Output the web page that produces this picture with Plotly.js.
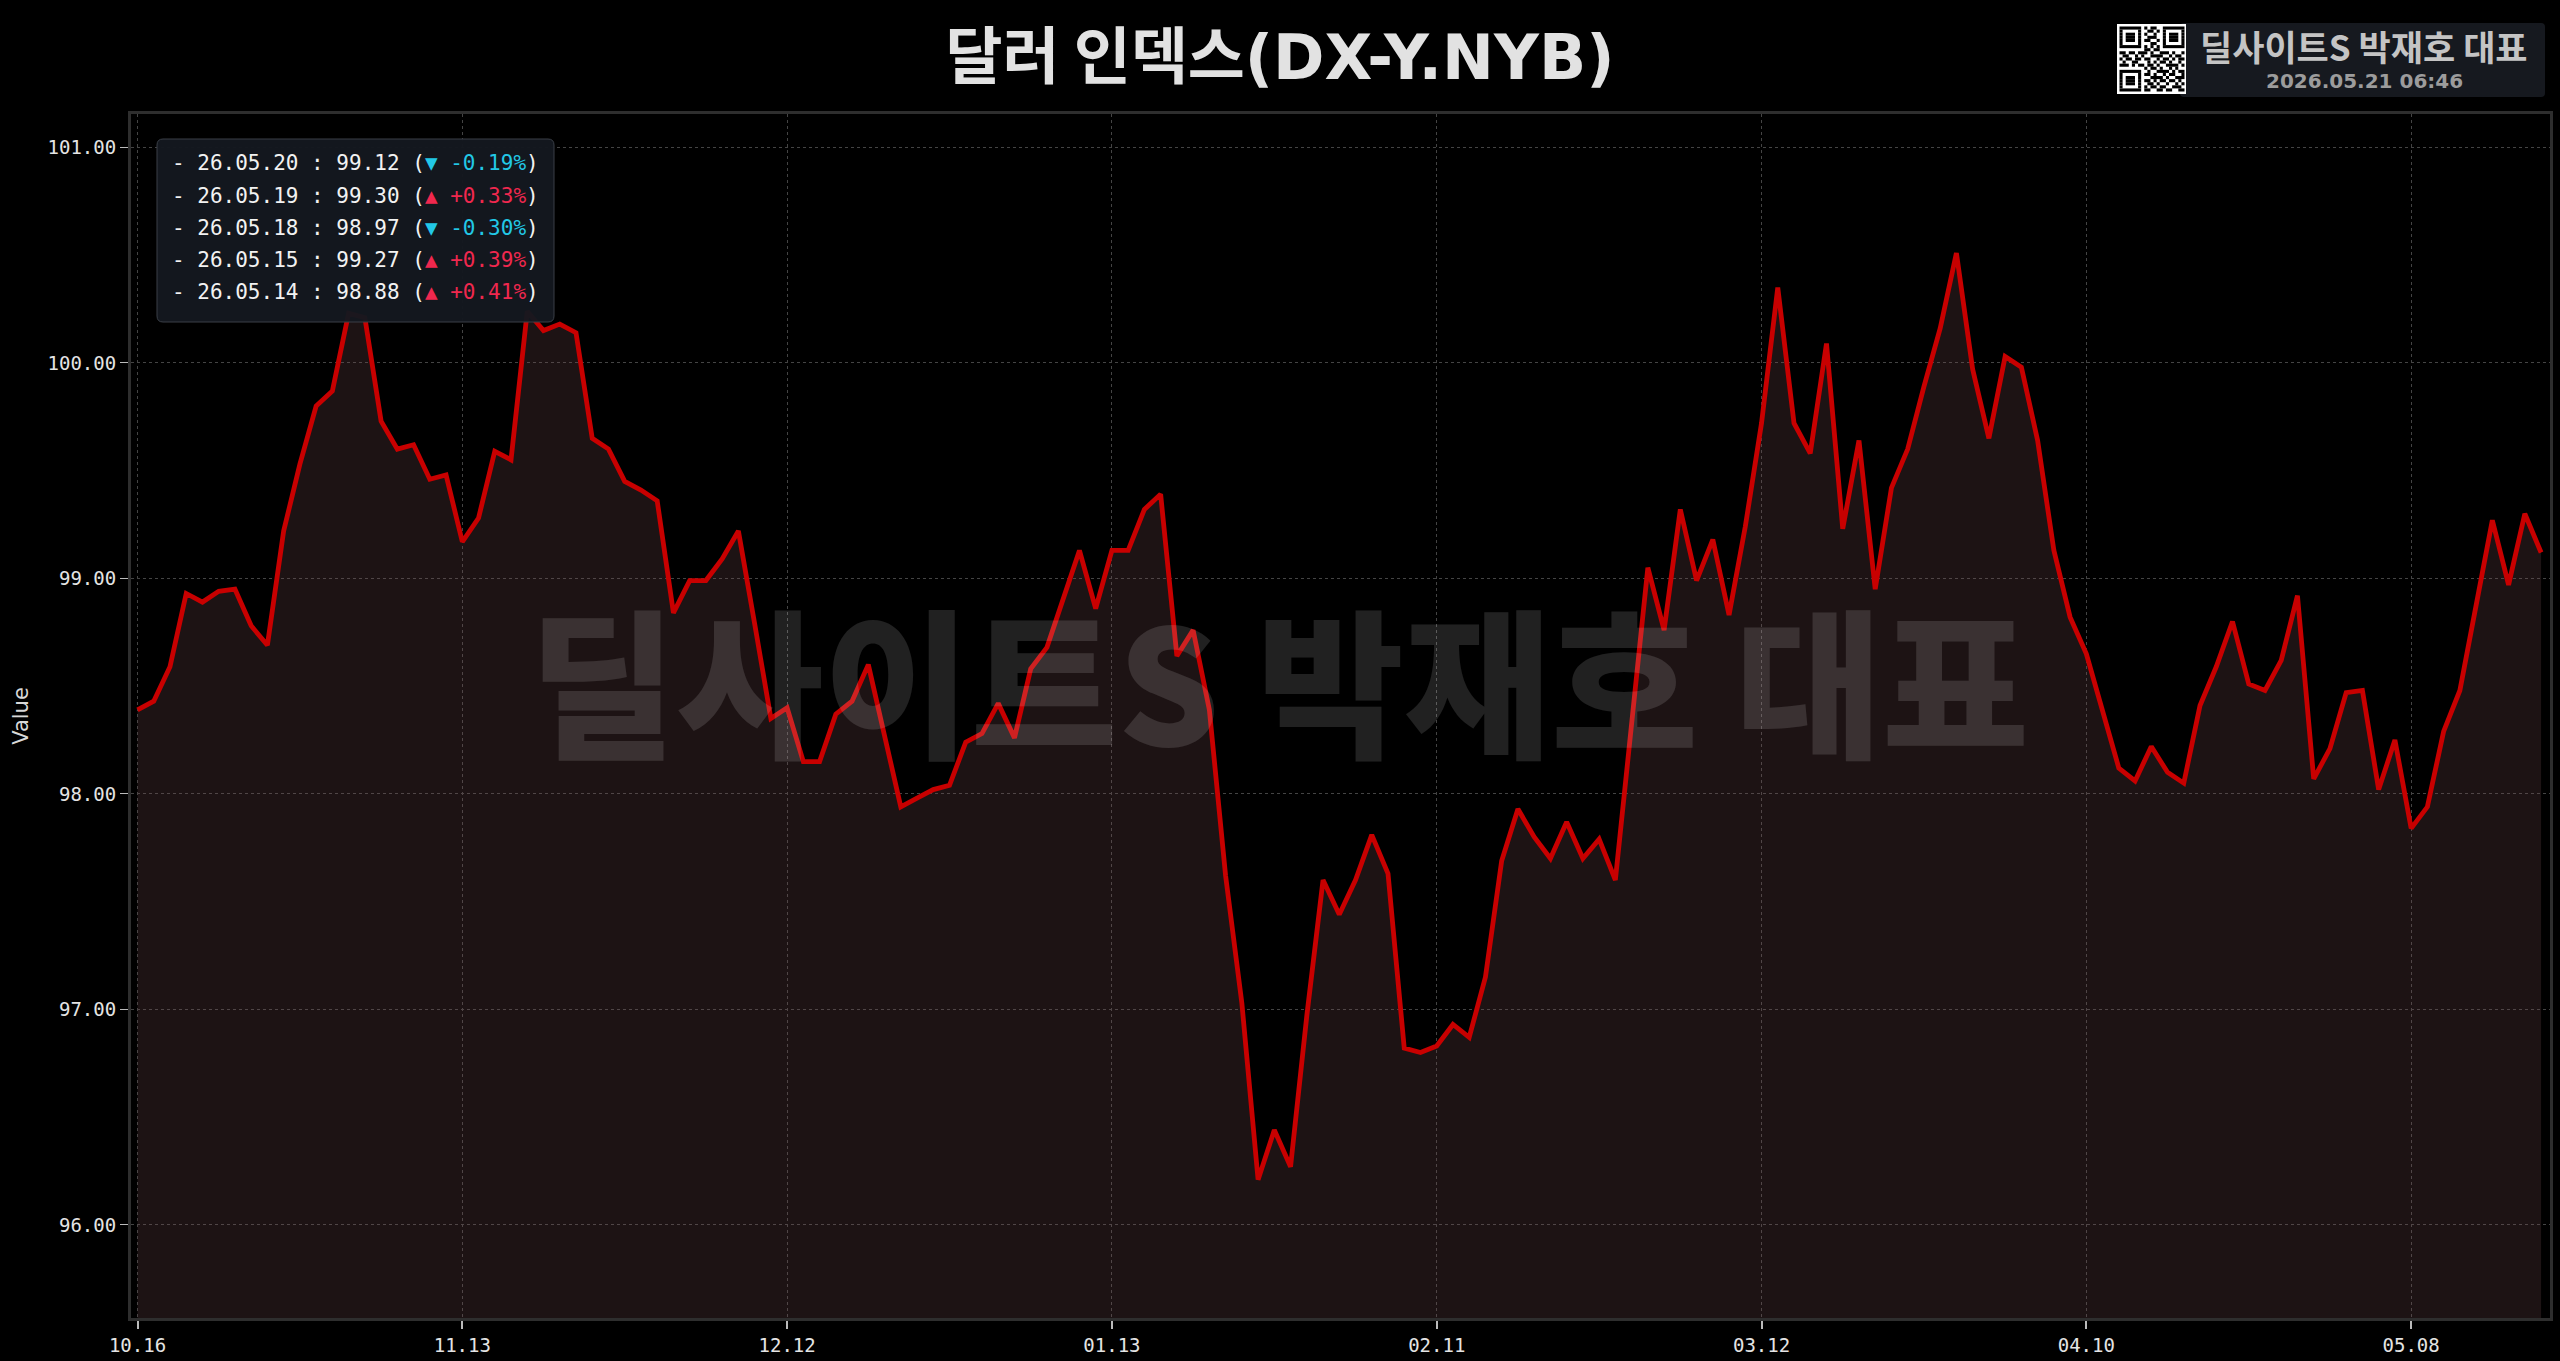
<!DOCTYPE html>
<html>
<head>
<meta charset="utf-8">
<script src="https://cdn.plot.ly/plotly-3.0.1.min.js"></script>
<style>
  html, body { margin: 0; padding: 0; background: #000; }
  #chart { width: 2560px; height: 1361px; }
</style>
</head>
<body>
<div id="chart"></div>
<script>
// ---- data ----
const dates = [
  '10.16','10.17','10.20','10.21','10.22','10.23','10.24','10.27','10.28','10.29','10.30','10.31',
  '11.03','11.04','11.05','11.06','11.07','11.10','11.11','11.12','11.13','11.14',
  '11.17','11.18','11.19','11.20','11.21','11.24','11.25','11.26','11.28',
  '12.01','12.02','12.03','12.04','12.05','12.08','12.09','12.10','12.11','12.12',
  '12.15','12.16','12.17','12.18','12.19','12.22','12.23','12.24','12.26',
  '12.29','12.30','12.31','01.02','01.05','01.06','01.07','01.08','01.09',
  '01.12','01.13','01.14','01.15','01.16','01.20','01.21','01.22','01.23',
  '01.26','01.27','01.28','01.29','01.30','02.02','02.03','02.04','02.05','02.06',
  '02.09','02.10','02.11','02.12','02.13','02.17','02.18','02.19','02.20',
  '02.23','02.24','02.25','02.26','02.27','03.02','03.03','03.04','03.05','03.06',
  '03.09','03.10','03.11','03.12','03.13','03.16','03.17','03.18','03.19','03.20',
  '03.23','03.24','03.25','03.26','03.27','03.30','03.31','04.01','04.02',
  '04.06','04.07','04.08','04.09','04.10','04.13','04.14','04.15','04.16','04.17',
  '04.20','04.21','04.22','04.23','04.24','04.27','04.28','04.29','04.30','05.01',
  '05.04','05.05','05.06','05.07','05.08','05.11','05.12','05.13','05.14','05.15',
  '05.18','05.19','05.20'
];
const values = [
  98.39, 98.43, 98.59, 98.93, 98.89, 98.94, 98.95, 98.78, 98.69, 99.22,
  99.53, 99.80, 99.87, 100.23, 100.21, 99.73, 99.60, 99.62, 99.46, 99.48,
  99.17, 99.28, 99.59, 99.55, 100.24, 100.15, 100.18, 100.14, 99.65, 99.60,
  99.45, 99.41, 99.36, 98.84, 98.99, 98.99, 99.09, 99.22, 98.79, 98.35,
  98.40, 98.15, 98.15, 98.37, 98.43, 98.60, 98.27, 97.94, 97.98, 98.02,
  98.04, 98.24, 98.28, 98.42, 98.26, 98.58, 98.68, 98.90, 99.13, 98.86,
  99.13, 99.13, 99.32, 99.39, 98.64, 98.76, 98.39, 97.62, 97.03, 96.21,
  96.44, 96.27, 96.97, 97.60, 97.44, 97.60, 97.81, 97.63, 96.82, 96.80,
  96.83, 96.93, 96.87, 97.15, 97.69, 97.93, 97.80, 97.70, 97.87, 97.70,
  97.79, 97.60, 98.32, 99.05, 98.76, 99.32, 98.99, 99.18, 98.83, 99.24,
  99.72, 100.35, 99.72, 99.58, 100.09, 99.23, 99.64, 98.95, 99.42, 99.60,
  99.89, 100.16, 100.51, 99.97, 99.65, 100.03, 99.98, 99.64, 99.13, 98.82,
  98.65, 98.38, 98.12, 98.06, 98.22, 98.10, 98.05, 98.41, 98.59, 98.80,
  98.51, 98.48, 98.62, 98.92, 98.07, 98.21, 98.47, 98.48, 98.02, 98.25,
  97.84, 97.94, 98.29, 98.48, 98.88, 99.27, 98.97, 99.30, 99.12
];
const tickDates = ['10.16','11.13','12.12','01.13','02.11','03.12','04.10','05.08'];
const yTicks = [96, 97, 98, 99, 100, 101];

const recentDates   = ['26.05.20','26.05.19','26.05.18','26.05.15','26.05.14'];
const recentValues  = [99.12, 99.30, 98.97, 99.27, 98.88];
const recentChanges = [-0.19, 0.33, -0.30, 0.39, 0.41];

const titleKo = '달러 인덱스';
const titleCode = '(DX-Y.NYB)';
const brandText = '딜사이트S 박재호 대표';
const stampText = '2026.05.21 06:46';
const yTitle = 'Value';

// decorative QR-like pattern (badge icon)
const qrRows = [
  '111111101011001111111',
  '100000100110101000001',
  '101110101001001011101',
  '101110100111001011101',
  '101110101100101011101',
  '100000100011001000001',
  '111111101010101111111',
  '000000001101100000000',
  '110110111010011101001',
  '011001010011110010110',
  '101101101100101101011',
  '010011000101011010010',
  '111010110110100111101',
  '000000001011010010100',
  '111111100100111101011',
  '100000101101001011001',
  '101110100011110100111',
  '101110101101011011010',
  '101110100110100100101',
  '100000101011011001110',
  '111111101100110110011'
];

// ---- layout geometry ----
const W = 2560, H = 1361;
const M = { l: 131, r: 10, t: 114, b: 43 };
const PW = W - M.l - M.r, PH = H - M.t - M.b;
const fx = x => (x - M.l) / PW;
const fy = y => (H - M.b - y) / PH;

function roundRectPath(x0, y0, x1, y1, r) {
  const rx = r / PW, ry = r / PH;
  const X0 = fx(x0), X1 = fx(x1), Y0 = fy(y0), Y1 = fy(y1);
  return `M ${X0 + rx} ${Y0} L ${X1 - rx} ${Y0} Q ${X1} ${Y0} ${X1} ${Y0 - ry} ` +
         `L ${X1} ${Y1 + ry} Q ${X1} ${Y1} ${X1 - rx} ${Y1} L ${X0 + rx} ${Y1} ` +
         `Q ${X0} ${Y1} ${X0} ${Y1 + ry} L ${X0} ${Y0 - ry} Q ${X0} ${Y0} ${X0 + rx} ${Y0} Z`;
}

const shapes = [];
const annotations = [];

// legend box
shapes.push({
  type: 'path', xref: 'paper', yref: 'paper', layer: 'above',
  path: roundRectPath(157, 139, 554, 322, 6),
  fillcolor: 'rgba(20,24,31,0.96)', line: { color: '#3a3f47', width: 1 }
});
recentDates.forEach((d, i) => {
  const ch = recentChanges[i];
  const up = ch >= 0;
  const col = up ? '#f0284e' : '#22c8e6';
  const txt = `- ${d} : ${recentValues[i].toFixed(2)} (<span style="color:${col}">${up ? '▲' : '▼'} ${up ? '+' : '-'}${Math.abs(ch).toFixed(2)}%</span>)`;
  annotations.push({
    xref: 'paper', yref: 'paper', x: fx(170), y: fy(163.5 + i * 32.2),
    xanchor: 'left', yanchor: 'middle', showarrow: false, text: txt,
    font: { family: 'DejaVu Sans Mono, monospace', size: 21, color: '#f2f2f2' }
  });
});

// watermark
annotations.push({
  xref: 'paper', yref: 'paper', x: fx(1279), y: fy(676),
  xanchor: 'center', yanchor: 'middle', showarrow: false, text: brandText,
  font: { family: 'Noto Sans CJK KR, sans-serif', size: 160, weight: 900, color: 'rgba(255,255,255,0.13)' }
});

// badge top-right
shapes.push({
  type: 'path', xref: 'paper', yref: 'paper', layer: 'above',
  path: roundRectPath(2180, 23, 2545, 97, 4),
  fillcolor: '#16191f', line: { width: 0 }
});
shapes.push({
  type: 'rect', xref: 'paper', yref: 'paper', layer: 'above',
  x0: fx(2117), x1: fx(2186), y0: fy(24), y1: fy(94),
  fillcolor: '#ffffff', line: { width: 0 }
});
const qx0 = 2119.5, qy0 = 26.5, mod = 65 / qrRows.length;
qrRows.forEach((row, r) => {
  let c = 0;
  while (c < row.length) {
    if (row[c] === '1') {
      let e = c;
      while (e < row.length && row[e] === '1') e++;
      shapes.push({
        type: 'rect', xref: 'paper', yref: 'paper', layer: 'above',
        x0: fx(qx0 + c * mod), x1: fx(qx0 + e * mod),
        y0: fy(qy0 + r * mod), y1: fy(qy0 + (r + 1) * mod),
        fillcolor: '#000', line: { width: 0 }
      });
      c = e;
    } else c++;
  }
});
annotations.push({
  xref: 'paper', yref: 'paper', x: fx(2364), y: fy(46),
  xanchor: 'center', yanchor: 'middle', showarrow: false, text: brandText,
  font: { family: 'Noto Sans CJK KR, sans-serif', size: 35, weight: 700, color: '#c4c4c4' }
});
annotations.push({
  xref: 'paper', yref: 'paper', x: fx(2364), y: fy(81),
  xanchor: 'center', yanchor: 'middle', showarrow: false, text: stampText,
  font: { family: 'DejaVu Sans, sans-serif', size: 20, weight: 700, color: '#9c9c9c' }
});

const trace = {
  type: 'scatter', mode: 'lines',
  x: dates, y: values,
  line: { color: '#c80000', width: 4.8 },
  fill: 'tozeroy', fillcolor: 'rgba(120,78,82,0.24)',
  hoverinfo: 'skip', showlegend: false
};

const tickFont = { family: 'DejaVu Sans Mono, monospace', size: 19, color: '#e4e4e4' };

const layout = {
  width: W, height: H,
  margin: M,
  paper_bgcolor: '#000', plot_bgcolor: '#000',
  showlegend: false,
  title: {
    text: `${titleKo}<span style="font-family:'DejaVu Sans', sans-serif">${titleCode}</span>`,
    xref: 'container', yref: 'container', x: 0.5, y: 1 - 57 / H,
    xanchor: 'center', yanchor: 'middle',
    font: { family: 'Noto Sans CJK KR, sans-serif', size: 62, weight: 700, color: '#e2e2e2' }
  },
  xaxis: {
    type: 'category', range: [-0.4, 148.55],
    tickmode: 'array', tickvals: tickDates, ticktext: tickDates,
    ticks: 'outside', ticklen: 8, tickwidth: 2, tickcolor: '#bbbbbb',
    tickfont: tickFont,
    showgrid: true, gridcolor: '#444444', griddash: 'dot', gridwidth: 1,
    showline: true, mirror: true, linecolor: '#2e2e2e', linewidth: 3,
    zeroline: false, automargin: false, fixedrange: true
  },
  yaxis: {
    range: [95.568, 101.155],
    tickmode: 'array', tickvals: yTicks, ticktext: yTicks.map(v => v.toFixed(2)),
    ticks: 'outside', ticklen: 8, tickwidth: 1, tickcolor: '#bbbbbb',
    tickfont: tickFont,
    showgrid: true, gridcolor: '#444444', griddash: 'dot', gridwidth: 1,
    showline: true, mirror: true, linecolor: '#2e2e2e', linewidth: 3,
    zeroline: false, automargin: false, fixedrange: true,
    title: { text: yTitle, standoff: 14, font: { family: 'DejaVu Sans, sans-serif', size: 21, color: '#d8d8d8' } }
  },
  shapes: shapes,
  annotations: annotations
};

Plotly.newPlot('chart', [trace], layout, { displayModeBar: false, staticPlot: true });
</script>
</body>
</html>
